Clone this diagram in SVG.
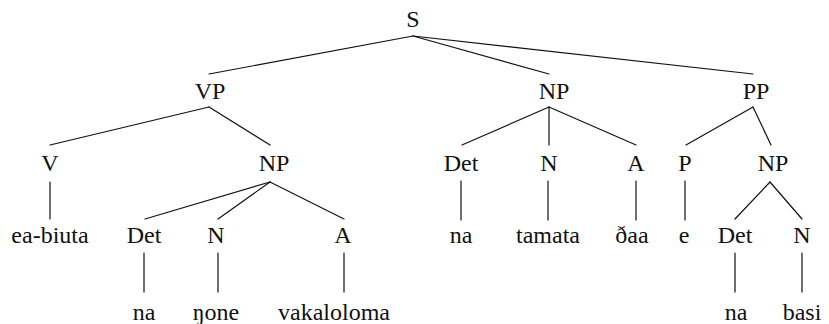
<svg xmlns="http://www.w3.org/2000/svg" width="829" height="324" viewBox="0 0 829 324">
  <style>
    .lbl text { font-family: "Liberation Serif", "Times New Roman", serif; font-size: 24px; fill: #111; text-anchor: middle; }
    .edge { stroke: #111; stroke-width: 1.2; fill: none; stroke-linecap: round; }
  </style>
  <rect width="829" height="324" fill="#fff"/>

  <!-- tree edges -->
  <g id="edges" class="edge">
    <!-- S -->
    <line x1="413" y1="36" x2="209" y2="74"/>
    <line x1="413" y1="36" x2="549" y2="74"/>
    <line x1="413" y1="36" x2="753" y2="74"/>
    <!-- VP -->
    <line x1="209" y1="107" x2="50" y2="145"/>
    <line x1="209" y1="107" x2="270" y2="145"/>
    <!-- NP (subject) -->
    <line x1="549" y1="107" x2="462" y2="145"/>
    <line x1="549" y1="107" x2="549" y2="145"/>
    <line x1="549" y1="107" x2="636" y2="145"/>
    <!-- PP -->
    <line x1="753" y1="107" x2="686" y2="145"/>
    <line x1="753" y1="107" x2="771" y2="145"/>
    <!-- V -->
    <line x1="50" y1="182" x2="50" y2="219"/>
    <!-- NP under VP -->
    <line x1="270" y1="182" x2="145" y2="219"/>
    <line x1="270" y1="182" x2="218" y2="219"/>
    <line x1="270" y1="182" x2="344" y2="219"/>
    <!-- Det / N / A / P -->
    <line x1="461" y1="181" x2="461" y2="220"/>
    <line x1="548" y1="181" x2="548" y2="220"/>
    <line x1="636" y1="181" x2="636" y2="220"/>
    <line x1="685" y1="181" x2="685" y2="220"/>
    <!-- NP under PP -->
    <line x1="770" y1="182" x2="735" y2="219"/>
    <line x1="770" y1="182" x2="802" y2="219"/>
    <!-- lowest level -->
    <line x1="144" y1="253" x2="144" y2="292"/>
    <line x1="218" y1="253" x2="218" y2="292"/>
    <line x1="344" y1="253" x2="344" y2="292"/>
    <line x1="735" y1="253" x2="735" y2="292"/>
    <line x1="802" y1="253" x2="802" y2="292"/>
  </g>

  <g class="lbl">
    <!-- level 0 -->
    <g id="n-S"><text x="413" y="27">S</text></g>

    <!-- level 1 -->
    <g id="n-VP"><text x="210" y="99">VP</text></g>
    <g id="n-NP1"><text x="554" y="99">NP</text></g>
    <g id="n-PP"><text x="756" y="99">PP</text></g>

    <!-- level 2 -->
    <g id="n-V"><text x="50" y="171">V</text></g>
    <g id="n-NP2"><text x="274" y="171">NP</text></g>
    <g id="n-Det1"><text x="461" y="171">Det</text></g>
    <g id="n-N1"><text x="549" y="171">N</text></g>
    <g id="n-A1"><text x="636" y="171">A</text></g>
    <g id="n-P"><text x="685" y="171">P</text></g>
    <g id="n-NP3"><text x="773" y="171">NP</text></g>

    <!-- level 3 -->
    <g id="w-eabiuta"><text x="50" y="243">ea-biuta</text></g>
    <g id="n-Det2"><text x="144" y="243">Det</text></g>
    <g id="n-N2"><text x="216" y="243">N</text></g>
    <g id="n-A2"><text x="343" y="243">A</text></g>
    <g id="w-na1"><text x="461" y="243">na</text></g>
    <g id="w-tamata"><text x="548" y="243">tamata</text></g>
    <g id="w-daa"><text x="632" y="243">ðaa</text></g>
    <g id="w-e"><text x="684" y="243">e</text></g>
    <g id="n-Det3"><text x="735" y="243">Det</text></g>
    <g id="n-N3"><text x="802" y="243">N</text></g>

    <!-- level 4 -->
    <g id="w-na2"><text x="144" y="320">na</text></g>
    <g id="w-none"><text x="216" y="320">ŋone</text></g>
    <g id="w-vakaloloma"><text x="334" y="320">vakaloloma</text></g>
    <g id="w-na3"><text x="736" y="320">na</text></g>
    <g id="w-basi"><text x="802" y="320">basi</text></g>
  </g>
</svg>
